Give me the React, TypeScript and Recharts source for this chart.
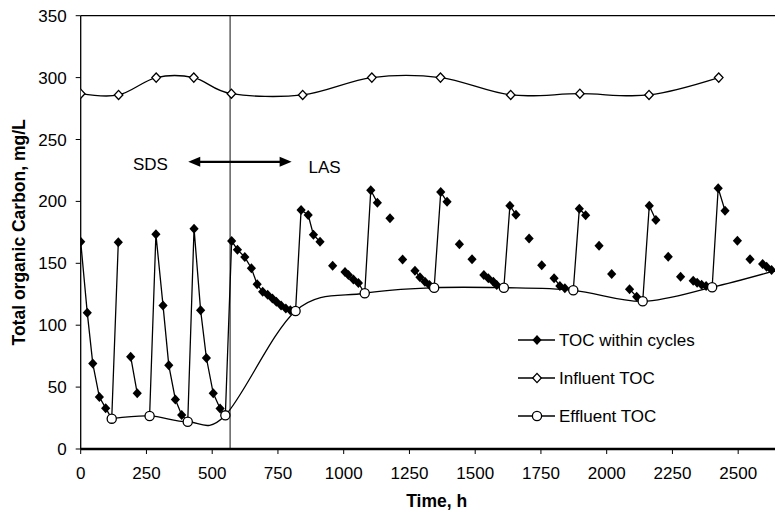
import { LineChart, Line, XAxis, YAxis, ReferenceLine, ReferenceDot, Legend } from 'recharts'

const FONT = '"Liberation Sans", Arial, sans-serif'

// TOC within cycles (null = no line between points)
const tocHours = [
  0, 25, 46, 71, 95, 118, 143, 165, 190, 215, 240,
  262, 286, 313, 335, 360, 384, 407, 431, 456, 478, 504, 530, 550,
  574, 596, 624, 649, 671, 692, 711, 729, 744, 762, 780, 797, 817, 838, 865, 885, 910, 935,
  958, 980, 1005, 1018, 1037, 1056, 1080, 1103, 1128, 1150, 1176, 1200, 1224, 1248,
  1271, 1290, 1309, 1326, 1344, 1369, 1393, 1415, 1440, 1465, 1488, 1510,
  1533, 1550, 1569, 1582, 1609, 1632, 1655, 1680, 1705, 1730, 1753, 1777,
  1800, 1822, 1841, 1873, 1896, 1920, 1945, 1971, 1995, 2019, 2050,
  2087, 2114, 2137, 2162, 2187, 2210, 2234, 2258, 2281, 2305,
  2329, 2344, 2361, 2378, 2401, 2424, 2450, 2475, 2497, 2520, 2545, 2570,
  2593, 2608, 2627,
]
const tocValues = [
  167.5, 110, 69, 42, 33, 24.5, 167, null, 74.6, 45, null,
  26.7, 173.4, 116, 67.6, 40, 27.5, 22, 178, 112, 73.5, 45, 32.8, 27.2,
  168, 161, 155, 146, 133, 127, 124.5, 121.5, 119, 116, 113.5, 112, 111.5, 193, 189, 173, 167.5, null,
  148, null, 143, 140.5, 137, 134, 125.8, 209, 199, null, 186.3, null, 153, null,
  144, 138.7, 135, 132.5, 130.3, 207.5, 199.8, null, 165.3, null, 153.2, null,
  140.5, 138, 135, 132.5, 130.3, 196.5, 189.3, null, 170, null, 148.4, null,
  138, 131.7, 129.8, 128.2, 194, 188.8, null, 164.2, null, 141.4, null,
  129.1, 123, 119.3, 196.5, 185, null, 155.3, null, 139.2, null,
  136, 134.3, 132.7, 131.7, 130.6, 210.6, 192.5, null, 168.3, null, 153.2, null,
  149.4, 147.3, 144.6,
]

const influentHours = [0, 144, 287, 430, 573, 844, 1107, 1368, 1635, 1898, 2161, 2426]
const influentValues = [287, 286, 300, 300, 287, 286, 300, 300, 286, 287, 286, 300]

const effluentHours = [118, 262, 407, 550, 817, 1080, 1344, 1609, 1873, 2137, 2401, 2665]
const effluentValues = [24.5, 26.7, 22, 27.2, 111.5, 125.8, 130.3, 130.3, 128.2, 119.3, 130.6, 145.5]

const xTicks = [0, 250, 500, 750, 1000, 1250, 1500, 1750, 2000, 2250, 2500]
const yTicks = [0, 50, 100, 150, 200, 250, 300, 350]

const tocData = tocHours.map((t, i) => ({ t, v: tocValues[i] }))
const influentData = influentHours.map((t, i) => ({ t, v: influentValues[i] }))
const effluentData = effluentHours.map((t, i) => ({ t, v: effluentValues[i] }))

// Excel-like smoothed line (Catmull-Rom style bezier)
class SmoothCurve {
  constructor(context) {
    this._context = context
    this._k = 1 / 6
  }
  areaStart() { this._line = 0 }
  areaEnd() { this._line = NaN }
  lineStart() {
    this._x0 = this._x1 = this._x2 = this._y0 = this._y1 = this._y2 = NaN
    this._point = 0
  }
  lineEnd() {
    switch (this._point) {
      case 2: this._context.lineTo(this._x2, this._y2); break
      case 3: this.bez(this._x1, this._y1); break
    }
    if (this._line || (this._line !== 0 && this._point === 1)) this._context.closePath()
    this._line = 1 - this._line
  }
  bez(x, y) {
    this._context.bezierCurveTo(
      this._x1 + this._k * (this._x2 - this._x0),
      this._y1 + this._k * (this._y2 - this._y0),
      this._x2 + this._k * (this._x1 - x),
      this._y2 + this._k * (this._y1 - y),
      this._x2,
      this._y2
    )
  }
  point(x, y) {
    x = +x; y = +y
    switch (this._point) {
      case 0:
        this._point = 1
        this._line ? this._context.lineTo(x, y) : this._context.moveTo(x, y)
        break
      case 1:
        this._point = 2
        this._x1 = x; this._y1 = y
        break
      case 2:
        this._point = 3
        this.bez(x, y)
        break
      default:
        this.bez(x, y)
        break
    }
    this._x0 = this._x1; this._x1 = this._x2; this._x2 = x
    this._y0 = this._y1; this._y1 = this._y2; this._y2 = y
  }
}
const smoothCurve = (context) => new SmoothCurve(context)

const diamondPoints = (cx: number, cy: number, w: number, h: number) =>
  `${cx},${cy - h} ${cx + w},${cy} ${cx},${cy + h} ${cx - w},${cy}`

const FilledDiamond = (props: any) => {
  const { cx, cy, index, payload } = props
  if (cx == null || cy == null || payload?.v == null) return <g key={index} />
  return <polygon key={index} points={diamondPoints(cx, cy, 4.6, 5)} fill="#000" />
}

const OpenDiamond = (props: any) => {
  const { cx, cy, index } = props
  if (cx == null || cy == null) return <g key={index} />
  return <polygon key={index} points={diamondPoints(cx, cy, 4.3, 4.6)} fill="#fff" stroke="#000" strokeWidth={1.3} />
}

const OpenCircle = (props: any) => {
  const { cx, cy, index } = props
  if (cx == null || cy == null) return <g key={index} />
  return <circle key={index} cx={cx} cy={cy} r={4.6} fill="#fff" stroke="#000" strokeWidth={1.3} />
}

const legendItems = [
  { name: 'TOC within cycles', marker: 'filled' },
  { name: 'Influent TOC', marker: 'diamond' },
  { name: 'Effluent TOC', marker: 'circle' },
]

function LegendBox() {
  return (
    <svg width={220} height={110} style={{ display: 'block' }}>
      {legendItems.map((item, i) => {
        const y = 18 + i * 38
        return (
          <g key={item.name}>
            <line x1={10} x2={47} y1={y} y2={y} stroke="#000" strokeWidth={1.3} />
            {item.marker === 'filled' && <polygon points={diamondPoints(29, y, 4.6, 5)} fill="#000" />}
            {item.marker === 'diamond' && (
              <polygon points={diamondPoints(29, y, 4.3, 4.6)} fill="#fff" stroke="#000" strokeWidth={1.3} />
            )}
            {item.marker === 'circle' && <circle cx={29} cy={y} r={4.6} fill="#fff" stroke="#000" strokeWidth={1.3} />}
            <text x={51} y={y} dominantBaseline="central" fontSize={17} fontFamily={FONT} fill="#000">
              {item.name}
            </text>
          </g>
        )
      })}
    </svg>
  )
}

const DoubleArrow = (props: any) => {
  const { x1, y1, x2 } = props
  const left = Math.min(x1, x2)
  const right = Math.max(x1, x2)
  const y = y1
  return (
    <g>
      <line x1={left + 8} x2={right - 8} y1={y} y2={y} stroke="#000" strokeWidth={2.2} />
      <polygon points={`${left},${y} ${left + 12},${y - 5} ${left + 12},${y + 5}`} fill="#000" />
      <polygon points={`${right},${y} ${right - 12},${y - 5} ${right - 12},${y + 5}`} fill="#000" />
    </g>
  )
}

const textShape = (label: string) => (props: any) => (
  <text x={props.cx} y={props.cy} textAnchor="middle" dominantBaseline="central" fontSize={17} fontFamily={FONT} fill="#000">
    {label}
  </text>
)

export default function App() {
  return (
    <div style={{ position: 'absolute', left: 0, top: 0, background: '#fff' }}>
      <LineChart width={775} height={514} margin={{ top: 15.7, right: 0, bottom: 0, left: 0 }}>
        <XAxis
          type="number"
          dataKey="t"
          domain={[0, 2640]}
          allowDataOverflow
          ticks={xTicks}
          height={65}
          tickSize={5}
          tickMargin={13}
          tick={{ fill: '#000', fontSize: 17, fontFamily: FONT }}
          tickLine={{ stroke: '#000' }}
          axisLine={{ stroke: '#000', strokeWidth: 2.5 }}
          label={{
            content: ({ viewBox }: any) => (
              <text x={viewBox.x + 356} y={viewBox.y + 58} textAnchor="middle" fontSize={17.5} fontWeight="bold" fontFamily={FONT} fill="#000">
                Time, h
              </text>
            ),
          }}
        />
        <YAxis
          type="number"
          domain={[0, 350]}
          ticks={yTicks}
          width={80.7}
          tickSize={5}
          tickMargin={9}
          tick={{ fill: '#000', fontSize: 17, fontFamily: FONT }}
          tickLine={{ stroke: '#000' }}
          axisLine={{ stroke: '#000', strokeWidth: 1.3 }}
          label={{
            content: ({ viewBox }: any) => {
              const x = viewBox.x + 19
              const y = viewBox.y + viewBox.height / 2
              return (
                <text x={x} y={y} transform={`rotate(-90, ${x}, ${y})`} textAnchor="middle" dominantBaseline="central" fontSize={17.5} fontWeight="bold" fontFamily={FONT} fill="#000">
                  Total organic Carbon, mg/L
                </text>
              )
            },
          }}
        />
        <ReferenceLine y={350} stroke="#000" strokeWidth={1.3} />
        <ReferenceLine x={568} stroke="#111" strokeWidth={1} />
        <ReferenceLine segment={[{ x: 409, y: 232 }, { x: 802, y: 232 }]} shape={DoubleArrow} />
        <ReferenceDot x={265} y={230} r={0} shape={textShape('SDS')} />
        <ReferenceDot x={927} y={227} r={0} shape={textShape('LAS')} />
        <Legend
          layout="horizontal"
          verticalAlign="middle"
          align="center"
          wrapperStyle={{ left: 508, top: 322, width: 220, height: 110 }}
          content={() => <LegendBox />}
        />
        <Line
          data={tocData}
          dataKey="v"
          name="TOC within cycles"
          type="linear"
          stroke="#000"
          strokeWidth={1.3}
          dot={FilledDiamond}
          activeDot={false}
          connectNulls={false}
          isAnimationActive={false}
        />
        <Line
          data={influentData}
          dataKey="v"
          name="Influent TOC"
          type={smoothCurve as any}
          stroke="#000"
          strokeWidth={1.3}
          dot={OpenDiamond}
          activeDot={false}
          isAnimationActive={false}
        />
        <Line
          data={effluentData}
          dataKey="v"
          name="Effluent TOC"
          type={smoothCurve as any}
          stroke="#000"
          strokeWidth={1.3}
          dot={OpenCircle}
          activeDot={false}
          isAnimationActive={false}
        />
      </LineChart>
    </div>
  )
}
